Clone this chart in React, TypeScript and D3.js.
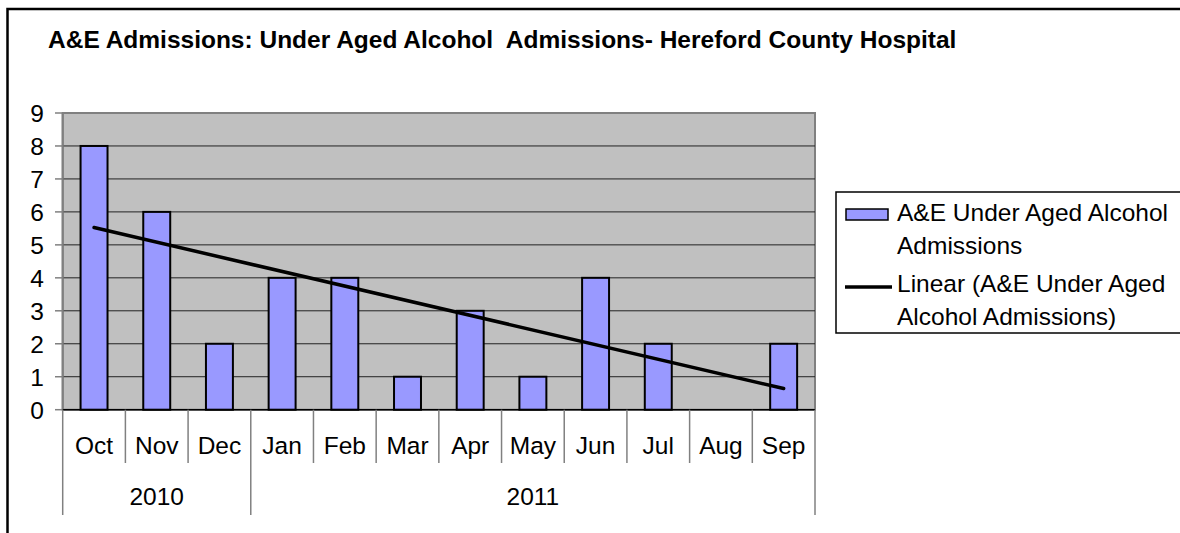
import React, { useRef, useEffect } from "react";
import * as d3 from "d3";

const months = ["Oct", "Nov", "Dec", "Jan", "Feb", "Mar", "Apr", "May", "Jun", "Jul", "Aug", "Sep"];
const years = [
  { label: "2010", from: 0, to: 3 },
  { label: "2011", from: 3, to: 12 },
];
const admissions = [8, 6, 2, 4, 4, 1, 3, 1, 4, 2, 0, 2];
const yTicks = [0, 1, 2, 3, 4, 5, 6, 7, 8, 9];

const title = "A&E Admissions: Under Aged Alcohol  Admissions- Hereford County Hospital";
const legendBar = ["A&E Under Aged Alcohol", "Admissions"];
const legendLine = ["Linear (A&E Under Aged", "Alcohol Admissions)"];

const FONT = "'Liberation Sans', Arial, sans-serif";
const FS = 24.5;

function App() {
  const ref = useRef<HTMLDivElement>(null);

  useEffect(() => {
    const [width, height] = [1180, 533];
    const left = 62.7, right = 815, top = 113, bottom = 409.7;

    const x = d3.scaleBand<string>().domain(months).range([left, right]).paddingInner(0.57).paddingOuter(0.285);
    const bounds = d3.scaleLinear().domain([0, months.length]).range([left, right]);
    const y = d3.scaleLinear().domain([0, 9]).range([bottom, top]);

    // least squares trend, x = 1..n
    const n = admissions.length;
    const xs = admissions.map((_, i) => i + 1);
    const mx = d3.mean(xs)!, my = d3.mean(admissions)!;
    const slope = d3.sum(xs, (v, i) => (v - mx) * (admissions[i] - my)) / d3.sum(xs, (v) => (v - mx) ** 2);
    const trend = (xi: number) => my + slope * (xi - mx);

    const root = d3.select(ref.current);
    root.selectAll("*").remove();
    const svg = root
      .append("svg")
      .attr("width", width)
      .attr("height", height)
      .style("position", "absolute")
      .style("left", "0px")
      .style("top", "0px")
      .style("background", "#fff")
      .style("font-family", FONT);

    // outer frame (only top & left visible)
    svg.append("path")
      .attr("d", `M7.5,${height + 5}V9H${width + 5}`)
      .attr("fill", "none")
      .attr("stroke", "#000")
      .attr("stroke-width", 2.5);

    svg.append("text")
      .attr("x", 48)
      .attr("y", 48)
      .attr("font-weight", "bold")
      .attr("font-size", FS)
      .style("white-space", "pre")
      .text(title);

    // plot area
    svg.append("rect")
      .attr("x", left)
      .attr("y", top)
      .attr("width", right - left)
      .attr("height", bottom - top)
      .attr("fill", "#C0C0C0")
      .attr("stroke", "#808080")
      .attr("stroke-width", 2);

    svg.append("g")
      .selectAll("line")
      .data(yTicks.filter((d) => d > 0 && d < 9))
      .join("line")
      .attr("x1", left)
      .attr("x2", right)
      .attr("y1", (d) => y(d))
      .attr("y2", (d) => y(d))
      .attr("stroke", "#222")
      .attr("stroke-width", 1);

    // y axis
    const gy = svg.append("g");
    gy.append("line").attr("x1", left).attr("x2", left).attr("y1", top).attr("y2", bottom).attr("stroke", "#808080").attr("stroke-width", 2);
    gy.selectAll("line.tick")
      .data(yTicks)
      .join("line")
      .attr("class", "tick")
      .attr("x1", 55)
      .attr("x2", left)
      .attr("y1", (d) => y(d))
      .attr("y2", (d) => y(d))
      .attr("stroke", "#808080")
      .attr("stroke-width", 1.5);
    gy.selectAll("text")
      .data(yTicks)
      .join("text")
      .attr("x", 44)
      .attr("y", (d) => y(d))
      .attr("dy", "0.36em")
      .attr("text-anchor", "end")
      .attr("font-size", FS)
      .text((d) => d);

    // bars
    svg.append("g")
      .selectAll("rect")
      .data(admissions)
      .join("rect")
      .attr("x", (_, i) => x(months[i])!)
      .attr("y", (d) => y(d))
      .attr("width", x.bandwidth())
      .attr("height", (d) => bottom - y(d))
      .attr("fill", "#9999FF")
      .attr("stroke", "#000")
      .attr("stroke-width", 2)
      .attr("display", (d) => (d > 0 ? null : "none"));

    // trend line
    const cx = (i: number) => x(months[i])! + x.bandwidth() / 2;
    svg.append("path")
      .datum([0, n - 1])
      .attr("d", d3.line<number>().x((i) => cx(i)).y((i) => y(trend(i + 1))))
      .attr("stroke", "#000")
      .attr("stroke-width", 3.5)
      .attr("stroke-linecap", "round");

    // category axis
    const gx = svg.append("g");
    gx.append("line").attr("x1", left).attr("x2", right).attr("y1", bottom).attr("y2", bottom).attr("stroke", "#000").attr("stroke-width", 1.5);
    gx.selectAll("line.m")
      .data(d3.range(months.length + 1))
      .join("line")
      .attr("class", "m")
      .attr("x1", (i) => bounds(i))
      .attr("x2", (i) => bounds(i))
      .attr("y1", bottom)
      .attr("y2", (i) => (years.some((yr) => yr.from === i || yr.to === i) ? 515 : 463))
      .attr("stroke", "#808080")
      .attr("stroke-width", 1.5);
    gx.selectAll("text.m")
      .data(months)
      .join("text")
      .attr("class", "m")
      .attr("x", (_, i) => bounds(i + 0.5))
      .attr("y", 445.5)
      .attr("dy", "0.36em")
      .attr("text-anchor", "middle")
      .attr("font-size", FS)
      .text((d) => d);
    gx.selectAll("text.y")
      .data(years)
      .join("text")
      .attr("class", "y")
      .attr("x", (d) => (bounds(d.from) + bounds(d.to)) / 2)
      .attr("y", 496)
      .attr("dy", "0.36em")
      .attr("text-anchor", "middle")
      .attr("font-size", FS)
      .text((d) => d.label);

    // legend
    const lg = svg.append("g");
    lg.append("rect")
      .attr("x", 836)
      .attr("y", 192)
      .attr("width", 400)
      .attr("height", 141)
      .attr("fill", "#fff")
      .attr("stroke", "#000")
      .attr("stroke-width", 1.5);
    lg.append("rect")
      .attr("x", 846)
      .attr("y", 209)
      .attr("width", 42)
      .attr("height", 11)
      .attr("fill", "#9999FF")
      .attr("stroke", "#000")
      .attr("stroke-width", 1.5);
    lg.append("line")
      .attr("x1", 845)
      .attr("x2", 892)
      .attr("y1", 287)
      .attr("y2", 287)
      .attr("stroke", "#000")
      .attr("stroke-width", 3.5);
    lg.selectAll("text.b")
      .data(legendBar)
      .join("text")
      .attr("class", "b")
      .attr("x", 897)
      .attr("y", (_, i) => 221 + i * 33)
      .attr("font-size", FS)
      .text((d) => d);
    lg.selectAll("text.l")
      .data(legendLine)
      .join("text")
      .attr("class", "l")
      .attr("x", 897)
      .attr("y", (_, i) => 292 + i * 33)
      .attr("font-size", FS)
      .text((d) => d);
  }, []);

  return <div ref={ref} />;
}

export default App;
